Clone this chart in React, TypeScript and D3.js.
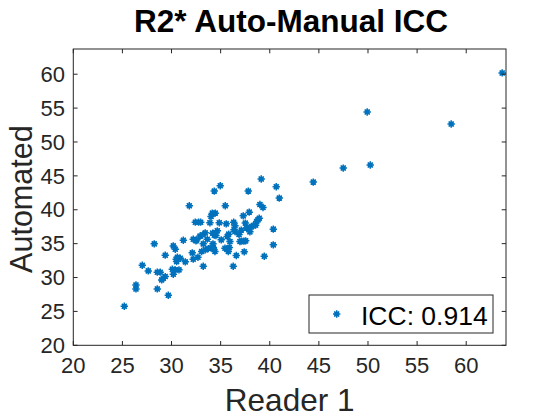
import React from "react";
import * as d3 from "d3";

const reader1: number[] = [
  25.19, 26.38, 26.38, 27.02, 27.63, 28.24, 28.55, 28.85, 28.55, 29.0, 29.16, 29.36,
  29.36, 29.67, 30.08, 30.18, 30.38, 30.76, 30.18, 30.38, 30.48, 30.59, 30.89, 30.52,
  31.2, 31.4, 31.81, 32.11, 32.21, 32.69, 32.21, 32.49, 32.56, 32.42, 32.76, 32.97,
  32.9, 33.17, 33.23, 33.07, 33.43, 33.74, 34.02, 34.25, 33.23, 33.43, 33.64, 33.91,
  34.02, 34.15, 34.45, 34.35, 34.96, 34.19, 34.49, 34.66, 34.35, 34.52, 34.22, 34.42,
  34.25, 34.86, 35.06, 35.47, 35.57, 35.44, 35.64, 35.78, 35.88, 35.67, 35.82, 35.95,
  36.28, 36.33, 36.46, 36.36, 36.46, 36.59, 36.87, 36.97, 37.14, 37.37, 37.55, 37.1,
  37.3, 37.51, 37.65, 37.81, 37.98, 38.16, 37.4, 37.81, 37.91, 38.32, 38.56, 38.67,
  38.8, 38.93, 39.0, 39.31, 39.13, 39.44, 40.36, 40.36, 40.66, 40.97, 44.43, 47.48,
  49.92, 50.23, 58.47, 63.66,
];
const automated: number[] = [
  25.76, 28.91, 28.32, 31.82, 30.98, 34.97, 30.79, 30.79, 28.32, 29.65, 29.9, 30.14,
  33.3, 27.39, 31.23, 30.49, 31.13, 31.13, 34.67, 34.18, 32.71, 33.0, 32.85, 32.35,
  35.51, 32.31, 40.58, 33.64, 32.71, 33.0, 35.66, 35.41, 35.56, 38.17, 38.17, 38.17,
  36.11, 36.3, 31.67, 33.83, 34.08, 34.27, 34.38, 34.42, 34.97, 36.59, 35.66, 38.07,
  39.0, 39.5, 39.5, 42.75, 43.54, 36.55, 36.64, 36.89, 36.25, 36.19, 34.97, 33.83,
  34.33, 38.07, 35.56, 40.58, 37.92, 34.33, 34.23, 33.83, 34.42, 36.05, 36.4, 35.31,
  31.67, 38.17, 37.63, 37.04, 36.78, 33.24, 36.34, 35.31, 35.37, 35.37, 35.41, 36.99,
  39.1, 38.03, 37.29, 37.29, 36.74, 37.52, 33.79, 42.75, 39.65, 37.63, 37.73, 38.26,
  38.51, 38.76, 40.77, 40.33, 44.53, 33.15, 37.14, 34.82, 43.39, 41.72, 44.08, 46.15,
  54.43, 46.6, 52.65, 60.19,
];
const xTicks: number[] = [20, 25, 30, 35, 40, 45, 50, 55, 60];
const yTicks: number[] = [20, 25, 30, 35, 40, 45, 50, 55, 60];
const titleText = "R2* Auto-Manual ICC";
const xLabel = "Reader 1";
const yLabel = "Automated";
const legendText = "ICC: 0.914";

const W = 560;
const H = 420;
const L = 73.3;
const R = 506;
const T = 49;
const B = 345.3;
const BLUE = "#0072BD";
const AX = "#262626";
const FONT = "'Liberation Sans', Arial, Helvetica, sans-serif";

function Star({ x, y }: { x: number; y: number }) {
  const a = 3.7;
  const b = 2.5;
  const p = `M${x - a},${y}L${x + a},${y}M${x},${y - a}L${x},${y + a}M${x - b},${y - b}L${x + b},${y + b}M${x - b},${y + b}L${x + b},${y - b}`;
  return (
    <g>
      <rect x={x - 2.3} y={y - 2.3} width={4.6} height={4.6} fill={BLUE} />
      <path d={p} stroke={BLUE} strokeWidth={1.5} fill="none" />
    </g>
  );
}

export default function App() {
  const x = d3.scaleLinear().domain([20, 64.05]).range([L, R]);
  const y = d3.scaleLinear().domain([20, 63.72]).range([B, T]);
  const tl = 4.3;
  return (
    <svg
      width={W}
      height={H}
      style={{ position: "absolute", left: 0, top: 0, background: "#fff" }}
      fontFamily={FONT}
    >
      <rect x={0} y={0} width={W} height={H} fill="#fff" />
      {reader1.map((v, i) => (
        <Star key={i} x={x(v)} y={y(automated[i])} />
      ))}
      <rect x={L} y={T} width={R - L} height={B - T} fill="none" stroke={AX} strokeWidth={1} />
      {xTicks.map((t) => (
        <g key={"x" + t}>
          <line x1={x(t)} x2={x(t)} y1={B} y2={B - tl} stroke={AX} />
          <line x1={x(t)} x2={x(t)} y1={T} y2={T + tl} stroke={AX} />
          <text x={x(t)} y={373} textAnchor="middle" fontSize={22} fill={AX}>
            {t}
          </text>
        </g>
      ))}
      {yTicks.map((t) => (
        <g key={"y" + t}>
          <line x1={L} x2={L + tl} y1={y(t)} y2={y(t)} stroke={AX} />
          <line x1={R} x2={R - tl} y1={y(t)} y2={y(t)} stroke={AX} />
          <text x={65} y={y(t)} dy="0.35em" textAnchor="end" fontSize={22} fill={AX}>
            {t}
          </text>
        </g>
      ))}
      <text x={291} y={32} textAnchor="middle" fontSize={31.5} fontWeight="bold" fill="#000">
        {titleText}
      </text>
      <text x={(L + R) / 2} y={411} textAnchor="middle" fontSize={31.5} fill={AX}>
        {xLabel}
      </text>
      <text
        transform={`translate(32,${(T + B) / 2 + 2}) rotate(-90)`}
        textAnchor="middle"
        fontSize={30.5}
        fill={AX}
      >
        {yLabel}
      </text>
      <g>
        <rect x={309} y={295} width={184} height={38} fill="#fff" stroke={AX} strokeWidth={1} />
        <Star x={336.7} y={314} />
        <text x={361} y={325} fontSize={26.5} fill="#000">
          {legendText}
        </text>
      </g>
    </svg>
  );
}
